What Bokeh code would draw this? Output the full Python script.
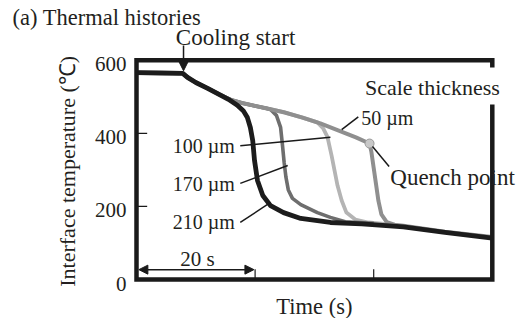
import numpy as np
from bokeh.plotting import figure
from bokeh.models import Range1d, Arrow, NormalHead
from bokeh.core.properties import value
from bokeh.embed import file_html
from bokeh.resources import INLINE

# ---------------- data ----------------
# shared trace before any quench (time s, temperature C)
t_common = [0, 4, 7.8, 8.6, 10, 12, 14]
T_common = [566, 565, 564, 553, 539, 523, 506]

# 210 um (black)
t_210 = [15.5, 17, 18.0, 18.7, 19.2, 19.6, 19.9, 20.4, 21.3, 22.6, 24.8, 27.7, 32.7, 38, 45, 52, 60]
T_210 = [493, 477, 462, 443, 416, 380, 326, 271, 230, 202, 183, 167, 156, 152, 144, 129, 113]

# 170 um (dark grey)
t_170 = [16, 18, 20, 22, 22.6, 23.6, 24.3, 24.6, 24.9, 25.2, 25.6, 26.3, 27.7, 30.5, 32.7, 35.2, 40]
T_170 = [491, 482, 475, 468, 465, 449, 416, 370, 320, 280, 245, 222, 205, 183, 170, 158, 154]

# 100 um (light grey)
t_100 = [16, 18, 20, 22, 25, 28, 30.5, 31.5, 32.2, 32.9, 33.4, 33.9, 34.6, 35.4, 36.9, 39.1, 43]
T_100 = [491, 482, 475, 468, 457, 443, 430, 413, 390, 339, 298, 257, 216, 183, 164, 156, 150]

# 50 um (grey)
t_50 = [16, 18, 20, 22, 25, 28, 31, 34, 37, 39.3, 39.6, 40.0, 40.4, 40.8, 41.3, 42.2, 43.5, 45, 52, 60]
T_50 = [491, 482, 475, 468, 457, 443, 427, 408, 389, 372, 350, 305, 260, 215, 178, 157, 150, 147, 131, 116]

quench_t = [39.3]
quench_T = [372]

y_tick_values = [0, 200, 400, 600]
y_tick_labels = ["0", "200", "400", "600"]
inner_y_ticks = [200, 400]
inner_x_ticks = [20, 40]

x_max = 60
y_max = 600

# ---------------- figure ----------------
W, H = 520, 318
# pixel mapping: t -> 136 + 5.93 t ; T -> 279 - 0.3655 T (page pixels)
sx, sy = 5.93, 0.3655
p = figure(width=W, height=H, output_backend="svg", toolbar_location=None,
           x_axis_location=None, y_axis_location=None, title=None,
           x_range=Range1d((0 - 136) / sx, (W - 136) / sx),
           y_range=Range1d((279 - H) / sy, (279 - 0) / sy),
           min_border=0)
p.outline_line_color = None
p.xgrid.visible = False
p.ygrid.visible = False
p.background_fill_color = "white"

FONT = value("Liberation Serif")
TXT = "#231f20"

def series(tt, TT):
    return t_common + tt, T_common + TT

x, y = series(t_100, T_100)
p.line(x, y, line_color="#b4b4b4", line_width=3.8, line_join="round")
x, y = series(t_170, T_170)
p.line(x, y, line_color="#6e6e6e", line_width=3.6, line_join="round")
x, y = series(t_50, T_50)
p.line(x, y, line_color="#8f8f8f", line_width=4.0, line_join="round")
x, y = series(t_210, T_210)
p.line(x, y, line_color="#1c1c1c", line_width=4.8, line_join="round")

p.scatter(quench_t, quench_T, size=9, fill_color="#c8c8c8", line_color="#9a9a9a", line_width=1)

# frame (with gap on the right for the legend title)
p.line([x_max, x_max, 0, 0, x_max, x_max], [580, y_max, y_max, 0, 0, 479],
       line_color="#1a1a1a", line_width=4.5, line_join="miter")

# inner ticks
p.segment(x0=[0] * len(inner_y_ticks), y0=inner_y_ticks,
          x1=[1.8] * len(inner_y_ticks), y1=inner_y_ticks, line_color="#1a1a1a", line_width=1.2)
p.segment(x0=inner_x_ticks, y0=[0] * len(inner_x_ticks),
          x1=inner_x_ticks, y1=[28] * len(inner_x_ticks), line_color="#1a1a1a", line_width=1.2)

# tick labels
p.text(x=[-1.7] * len(y_tick_values), y=y_tick_values, text=y_tick_labels,
       text_font=FONT, text_font_size="21px", text_align="right",
       text_baseline="middle", text_color=TXT, y_offset=4)

# axis labels and title
p.text(x=[-11.6], y=[296], text=["Interface temperature (℃)"], angle=np.pi / 2,
       text_font=FONT, text_font_size="22px", text_align="center",
       text_baseline="middle", text_color=TXT)
p.text(x=[30.0], y=[-74], text=["Time (s)"], text_font=FONT, text_font_size="22.5px",
       text_align="center", text_baseline="middle", text_color=TXT)
p.text(x=[-20.9], y=[717], text=["(a) Thermal histories"], text_font=FONT,
       text_font_size="22.5px", text_align="left", text_baseline="middle", text_color=TXT)

# annotations
p.text(x=[16.7], y=[662], text=["Cooling start"], text_font=FONT, text_font_size="23px",
       text_align="center", text_baseline="middle", text_color=TXT)
p.add_layout(Arrow(end=NormalHead(size=10, fill_color="#1a1a1a", line_color="#1a1a1a"),
                   x_start=7.93, y_start=640, x_end=7.93, y_end=571,
                   line_color="#1a1a1a", line_width=1.5))

p.text(x=[49.9], y=[525], text=["Scale thickness"], text_font=FONT, text_font_size="22px",
       text_align="center", text_baseline="middle", text_color=TXT)

p.text(x=[37.9, 6.1, 6.1, 6.1], y=[443, 364, 262, 158],
       text=["50 µm", "100 µm", "170 µm", "210 µm"],
       text_font=FONT, text_font_size="20px", text_align="left",
       text_baseline="middle", text_color=TXT)
p.text(x=[42.8], y=[279], text=["Quench point"],
       text_font=FONT, text_font_size="23px", text_align="left",
       text_baseline="middle", text_color=TXT)

p.segment(x0=[34.6, 17.5, 17.5, 17.5, 39.8],
          y0=[410, 366, 263, 156, 364],
          x1=[37.4, 32.7, 25.5, 22.6, 42.6],
          y1=[445, 389, 312, 211, 309],
          line_color="#1a1a1a", line_width=1.5)

# 20 s scale bar
p.text(x=[10.3], y=[57], text=["20 s"], text_font=FONT, text_font_size="21px",
       text_align="center", text_baseline="middle", text_color=TXT)
p.add_layout(Arrow(start=NormalHead(size=9, fill_color="#1a1a1a", line_color="#1a1a1a"),
                   end=NormalHead(size=9, fill_color="#1a1a1a", line_color="#1a1a1a"),
                   x_start=0.4, y_start=27, x_end=19.8, y_end=27,
                   line_color="#1a1a1a", line_width=1.5))

open("out.html", "w").write(file_html(p, INLINE))
